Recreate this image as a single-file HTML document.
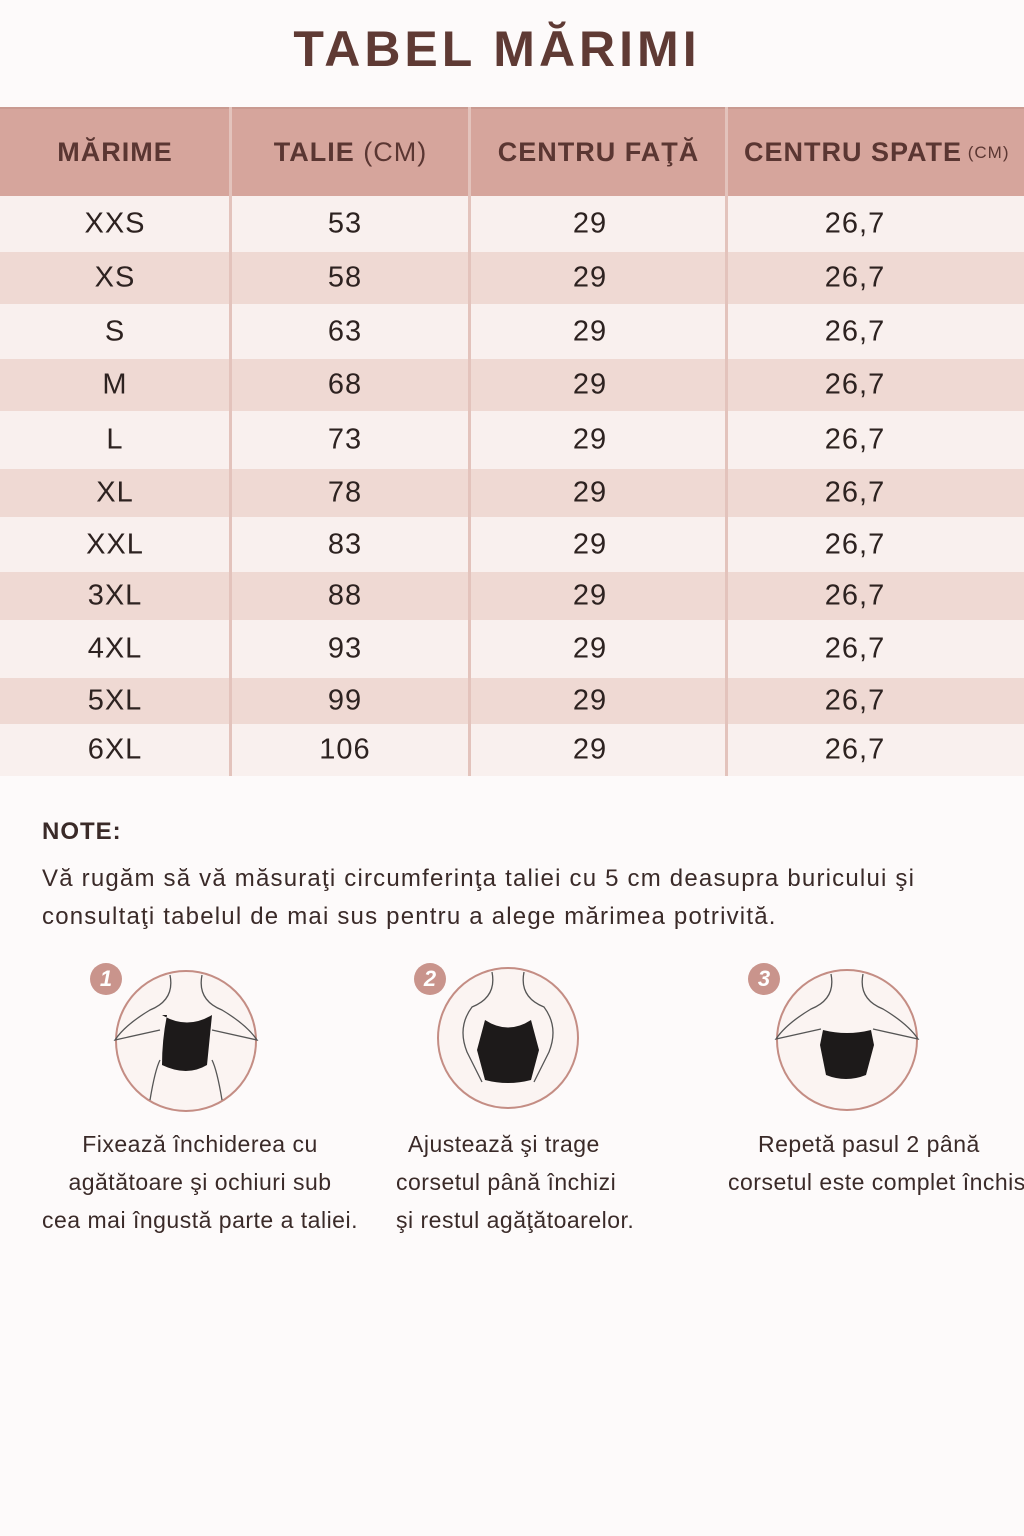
<!DOCTYPE html>
<html><head><meta charset="utf-8"><style>
body{margin:0;width:1024px;height:1536px;background:#fdfafa;font-family:"Liberation Sans",sans-serif;color:#3a2a28;position:relative;overflow:hidden}
.a{position:absolute}
h1{position:absolute;top:20px;left:0;width:994px;text-align:center;margin:0;font-size:50px;letter-spacing:4px;color:#5f3a34;font-weight:bold}
.hd{position:absolute;top:107px;height:89px;background:#d6a59c;border-top:2px solid #c99a91;color:#5a3632;font-weight:bold;font-size:27px;letter-spacing:1px;display:flex;align-items:center;justify-content:center;box-sizing:border-box;white-space:nowrap}
.r{position:absolute;left:0;width:1024px;font-size:29px;letter-spacing:1px;color:#2d2220}
.r span{position:absolute;text-align:center;top:50%;transform:translateY(-50%)}
.v{position:absolute;top:107px;height:669px;width:3px;background:#e3c3bc}
.cap{position:absolute;font-size:23px;letter-spacing:0.5px;text-align:center;line-height:38px;color:#3a2a28}
.num{position:absolute;width:32px;height:32px;border-radius:50%;background:#c9948c;color:#fff;font-weight:bold;font-style:italic;font-size:22px;text-align:center;line-height:32px}
</style></head><body>
<h1>TABEL MĂRIMI</h1>
<div class="hd" style="left:0;width:230px">MĂRIME</div>
<div class="hd" style="left:232px;width:237px">TALIE <span style="font-weight:normal">&nbsp;(CM)</span></div>
<div class="hd" style="left:471px;width:255px">CENTRU FAŢĂ</div>
<div class="hd" style="left:728px;width:296px;justify-content:flex-start;padding-left:16px">CENTRU SPATE <span style="font-weight:normal;font-size:17px">&nbsp;(CM)</span></div>
<div id="rows"></div>
<div class="v" style="left:229px"></div><div class="v" style="left:468px"></div><div class="v" style="left:725px"></div>
<div class="a" style="left:42px;top:818px;font-size:24px;font-weight:bold;letter-spacing:1px;color:#3a2a28">NOTE:</div>
<div class="a" style="left:42px;top:860px;font-size:24px;letter-spacing:1.2px;line-height:38px;color:#3a2a28;white-space:nowrap">Vă rugăm să vă măsuraţi circumferinţa taliei cu 5 cm deasupra buricului şi<br>consultaţi tabelul de mai sus pentru a alege mărimea potrivită.</div>

<svg class="a" style="left:0;top:960px" width="1024" height="160">
<g fill="#fbf4f2" stroke="#c48d84" stroke-width="2">
<circle cx="186" cy="81" r="70"/><circle cx="508" cy="78" r="70"/><circle cx="847" cy="80" r="70"/></g>
<g fill="none" stroke="#555" stroke-width="1.3">
<path d="M170 15 q5 25 -20 35 q-25 15 -35 30 l45 -10 M202 15 q-5 25 20 35 q25 15 35 30 l-45 -10 M150 140 q5 -30 10 -40 M222 140 q-5 -30 -10 -40"/>
<path d="M492 12 q5 25 -20 35 q-15 20 -5 45 l15 30 M524 12 q-5 25 20 35 q15 20 5 45 l-15 30"/>
<path d="M831 14 q5 25 -20 35 q-25 15 -35 30 l45 -10 M863 14 q-5 25 20 35 q25 15 35 30 l-45 -10"/>
</g>
<g fill="#1d1a1a">
<path d="M162 55 q25 15 50 0 l-5 50 q-20 12 -45 0 q0 -25 5 -50z"/>
<path d="M485 60 q23 15 46 0 l8 30 -8 30 q-23 6 -46 0 l-8 -30z"/>
<path d="M823 70 q24 6 48 0 l3 15 -8 30 q-20 8 -40 0 l-6 -30z"/>
</g></svg>
<div class="num" style="left:90px;top:963px">1</div>
<div class="num" style="left:414px;top:963px">2</div>
<div class="num" style="left:748px;top:963px">3</div>
<div class="cap" style="left:15px;top:1125px;width:370px">Fixează închiderea cu<br>agătătoare şi ochiuri sub<br>cea mai îngustă parte a taliei.</div>
<div class="cap" style="left:370px;top:1125px;width:300px;text-align:left;padding-left:26px;box-sizing:border-box;white-space:nowrap"><span style="padding-left:12px">Ajustează şi trage</span><br>corsetul până închizi<br>şi restul agăţătoarelor.</div>
<div class="cap" style="left:700px;top:1125px;width:400px;text-align:left;padding-left:28px;box-sizing:border-box;white-space:nowrap"><span style="padding-left:30px">Repetă pasul 2 până</span><br>corsetul este complet închis</div>
<script>
var s=["XXS","XS","S","M","L","XL","XXL","3XL","4XL","5XL","6XL"],t=[53,58,63,68,73,78,83,88,93,99,106],
b=[196,252,304,359,411,469,517,572,620,678,724,776],h="";
for(var i=0;i<11;i++){h+='<div class="r" style="top:'+b[i]+'px;height:'+(b[i+1]-b[i])+'px;background:'+(i%2?'#efd9d3':'#f9f0ee')+'"><span style="left:0;width:230px">'+s[i]+'</span><span style="left:230px;width:230px">'+t[i]+'</span><span style="left:470px;width:240px">29</span><span style="left:726px;width:258px">26,7</span></div>';}
document.getElementById("rows").innerHTML=h;
</script>
</body></html>
